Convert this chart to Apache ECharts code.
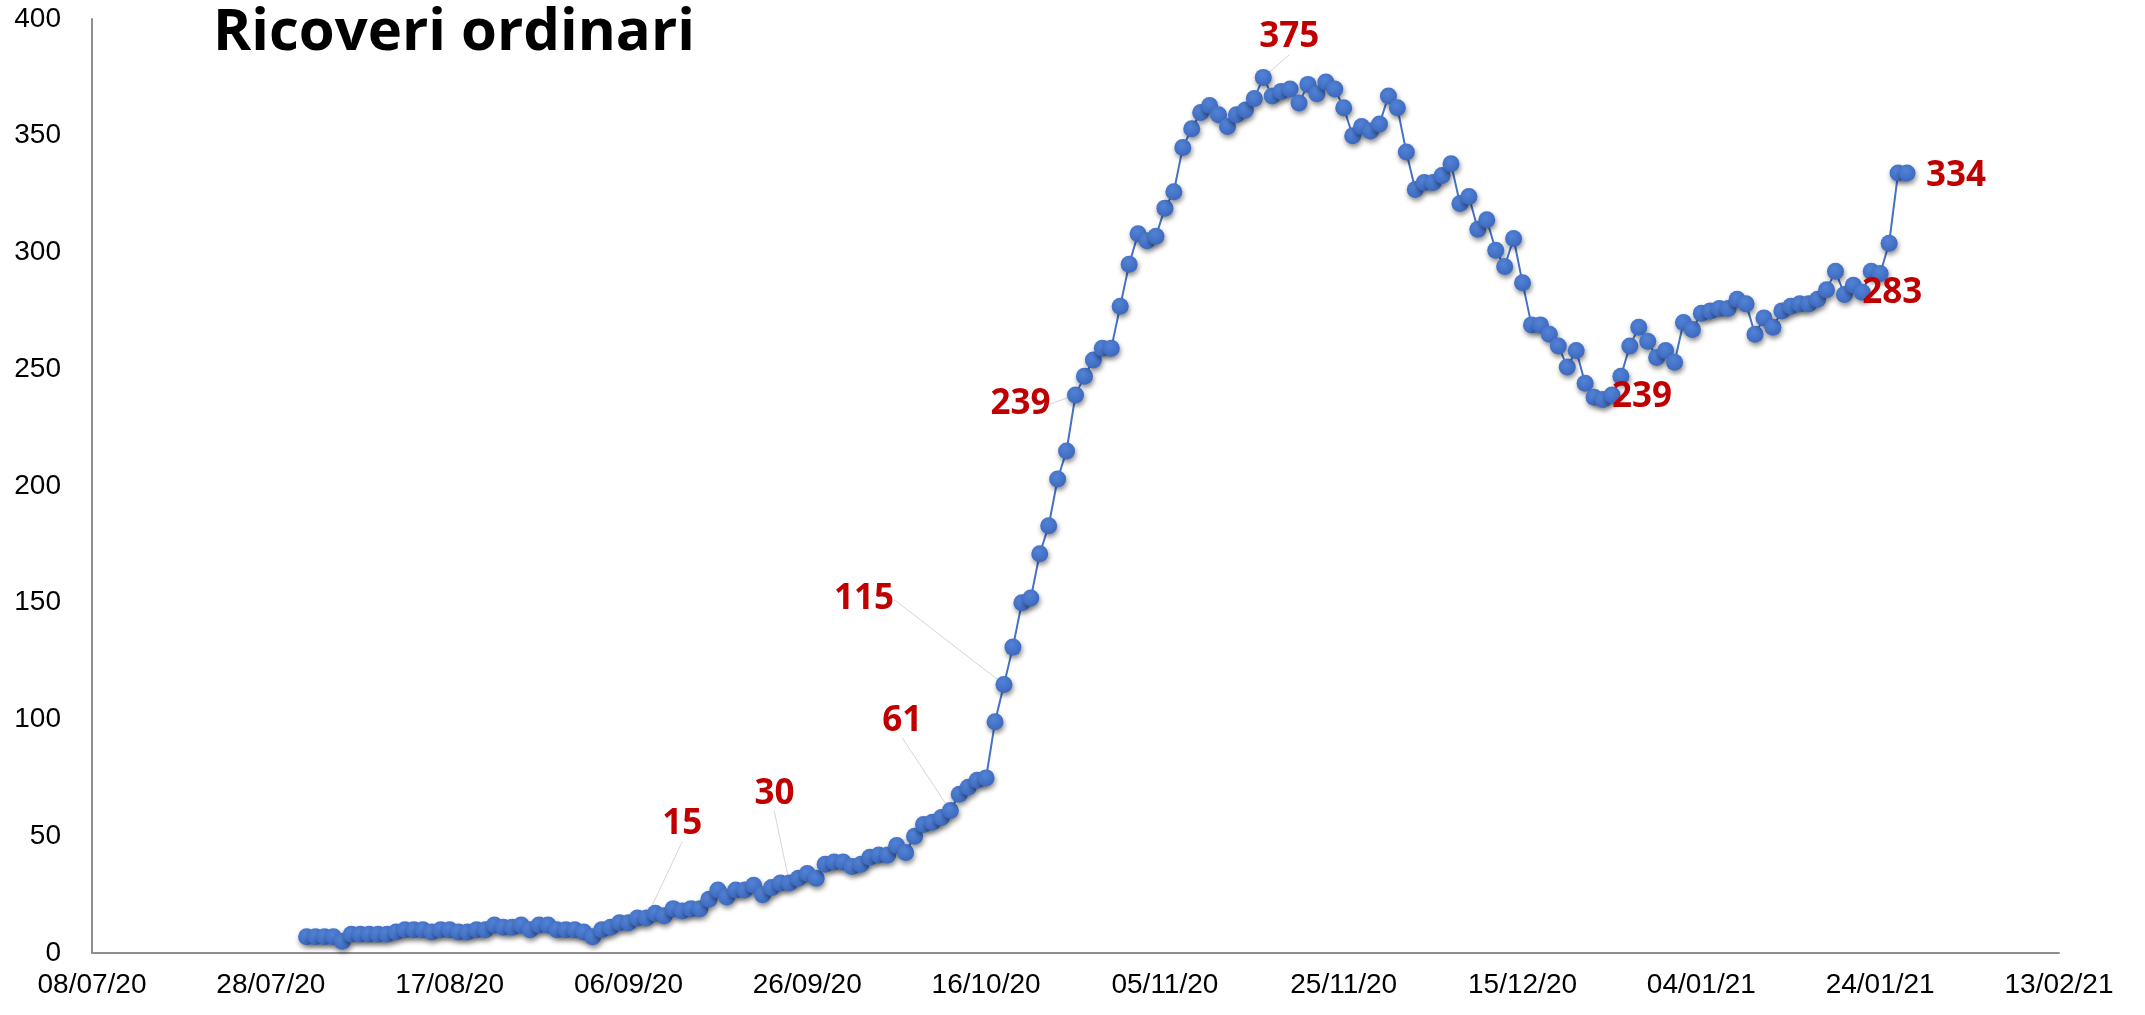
<!DOCTYPE html>
<html>
<head>
<meta charset="utf-8">
<title>Ricoveri ordinari</title>
<script src="https://cdn.jsdelivr.net/npm/echarts@6/dist/echarts.min.js"></script>
<style>
    html, body { margin: 0; padding: 0; background: #ffffff; }
    #id-div-chart { width: 2145px; height: 1015px; }
</style>
</head>
<body>
<div id="id-div-chart"></div>
<script>
var log = console.log.bind(console)

var e = (selector) => document.querySelector(selector)

// dati
var title = 'Ricoveri ordinari'
var axisStart = '2020-07-08'
var firstDate = '2020-08-01'
var xTickLabels = ['08/07/20', '28/07/20', '17/08/20', '06/09/20', '26/09/20', '16/10/20',
    '05/11/20', '25/11/20', '15/12/20', '04/01/21', '24/01/21', '13/02/21']
var yTicks = [0, 50, 100, 150, 200, 250, 300, 350, 400]

// un valore al giorno dal 01/08/20 al 27/01/21
var ricoveri = [
    7, 7, 7, 7, 5, 8, 8, 8, 8, 8,
    9, 10, 10, 10, 9, 10, 10, 9, 9, 10,
    10, 12, 11, 11, 12, 10, 12, 12, 10, 10,
    10, 9, 7, 10, 11, 13, 13, 15, 15, 17,
    16, 19, 18, 19, 19, 23, 27, 24, 27, 27,
    29, 25, 28, 30, 30, 32, 34, 32, 38, 39,
    39, 37, 38, 41, 42, 42, 46, 43, 50, 55,
    56, 58, 61, 68, 71, 74, 75, 99, 115, 131,
    150, 152, 171, 183, 203, 215, 239, 247, 254, 259,
    259, 277, 295, 308, 305, 307, 319, 326, 345, 353,
    360, 363, 359, 354, 359, 361, 366, 375, 367, 369,
    370, 364, 372, 368, 373, 370, 362, 350, 354, 352,
    355, 367, 362, 343, 327, 330, 330, 333, 338, 321,
    324, 310, 314, 301, 294, 306, 287, 269, 269, 265,
    260, 251, 258, 244, 238, 237, 239, 247, 260, 268,
    262, 255, 258, 253, 270, 267, 274, 275, 276, 276,
    280, 278, 265, 272, 268, 275, 277, 278, 278, 280,
    284, 292, 282, 286, 283, 292, 291, 304, 334, 334,
]

// indici dei punti con l'etichetta rossa
var labelledPoints = [38, 54, 72, 78, 86, 107, 146, 174, 179]

// spostamento delle etichette rispetto al punto, e se hanno la linea guida
var labelShift = [[36, -94], [-15, -89], [-48, -90], [-140, -85], [-55, 9], [26, -40], [30, 2], [30, 1], [49, 3]]
var labelGuide = [true, true, true, true, true, true, false, false, false]

var dayIndex = function(s) {
    return Math.round((Date.parse(s) - Date.parse(axisStart)) / 86400000)
}

var seriesData = function() {
    var start = dayIndex(firstDate)
    var data = []
    for (var i = 0; i < ricoveri.length; i++) {
        var item = {
            value: [start + i, ricoveri[i]],
        }
        var k = labelledPoints.indexOf(i)
        if (k >= 0) {
            item.label = { show: true }
            item.labelLine = { show: labelGuide[k] }
        }
        data.push(item)
    }
    return data
}

var axisFont = {
    color: '#000000',
    fontFamily: 'Liberation Sans',
    fontSize: 28,
}

var chartOption = function() {
    var option = {
        animation: false,
        backgroundColor: '#ffffff',
        title: {
            text: title,
            left: 213,
            top: 4,
            padding: 0,
            textStyle: {
                color: '#000000',
                fontFamily: 'Open Sans',
                fontWeight: 'bold',
                fontSize: 58,
            },
        },
        grid: {
            left: 92,
            right: 86,
            top: 19,
            bottom: 62,
            outerBoundsMode: 'none',
        },
        xAxis: {
            type: 'value',
            min: 0,
            max: (xTickLabels.length - 1) * 20,
            interval: 20,
            splitLine: { show: false },
            axisTick: { show: false },
            axisLine: {
                show: true,
                lineStyle: { color: '#8f8f8f', width: 2 },
            },
            axisLabel: Object.assign({
                margin: 18,
                formatter: (v) => xTickLabels[Math.round(v / 20)],
            }, axisFont),
        },
        yAxis: {
            type: 'value',
            min: yTicks[0],
            max: yTicks[yTicks.length - 1],
            interval: yTicks[1] - yTicks[0],
            splitLine: { show: false },
            axisTick: { show: false },
            axisLine: {
                show: true,
                lineStyle: { color: '#8f8f8f', width: 2 },
            },
            axisLabel: Object.assign({
                margin: 31,
            }, axisFont),
        },
        series: [
            {
                type: 'line',
                data: seriesData(),
                symbol: 'circle',
                symbolSize: 17,
                showSymbol: true,
                showAllSymbol: true,
                lineStyle: {
                    color: '#4472C4',
                    width: 2,
                },
                itemStyle: {
                    color: {
                        type: 'radial',
                        x: 0.42,
                        y: 0.35,
                        r: 0.7,
                        colorStops: [
                            { offset: 0, color: '#5283d6' },
                            { offset: 1, color: '#3a66bd' },
                        ],
                    },
                    shadowColor: 'rgba(0, 0, 0, 0.45)',
                    shadowBlur: 5,
                    shadowOffsetX: 1,
                    shadowOffsetY: 3,
                },
                label: {
                    show: false,
                    position: 'inside',
                    color: '#C00000',
                    fontFamily: 'Open Sans',
                    fontWeight: 'bold',
                    fontSize: 35,
                    formatter: (p) => String(p.value[1]),
                },
                labelLine: {
                    show: false,
                    lineStyle: {
                        color: '#d6d6d6',
                        width: 1,
                    },
                },
                labelLayout: function(params) {
                    var k = labelledPoints.indexOf(params.dataIndex)
                    if (k < 0) {
                        return {}
                    }
                    return {
                        dx: labelShift[k][0],
                        dy: labelShift[k][1],
                    }
                },
                emphasis: { disabled: true },
            },
        ],
    }
    return option
}

var renderChart = function() {
    var element = e('#id-div-chart')
    var chart = echarts.init(element, null, { renderer: 'canvas' })
    chart.setOption(chartOption())
}

var __main = function() {
    renderChart()
}

__main()
</script>
</body>
</html>
